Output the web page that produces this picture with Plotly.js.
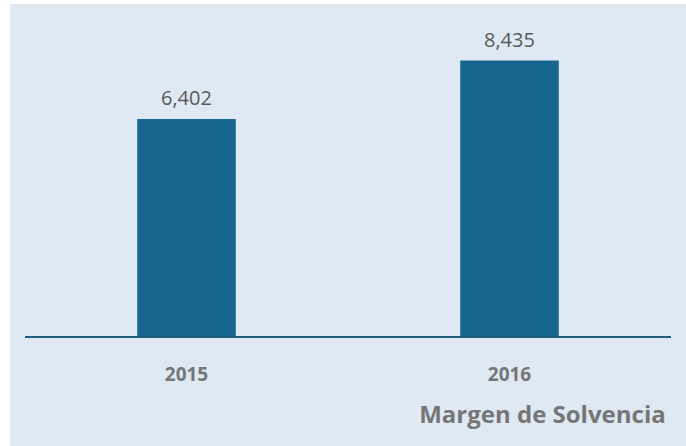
<!DOCTYPE html>
<html>
<head>
<meta charset="utf-8">
<script src="https://cdn.plot.ly/plotly-3.0.1.min.js"></script>
<style>
  html, body { margin: 0; padding: 0; background: #ffffff; }
  #chart { position: absolute; left: 10px; top: 4px; width: 676px; height: 442px; }
</style>
</head>
<body>
<div id="chart"></div>
<script>
const categories = ["2015", "2016"];
const values = [6402, 8435];
const valueLabels = ["6,402", "8,435"];
const chartTitle = "Margen de Solvencia";

const AXIS_MIN = -1139;
const AXIS_MAX = 9356;

const trace = {
  type: "bar",
  x: categories,
  y: values.map(v => v - AXIS_MIN),
  base: AXIS_MIN,
  marker: { color: "#17668f", line: { width: 0 } },
  hoverinfo: "skip"
};

const annotations = categories.map((c, i) => ({
  x: i,
  y: values[i],
  xref: "x",
  yref: "y",
  text: valueLabels[i],
  showarrow: false,
  xanchor: "center",
  yanchor: "bottom",
  yshift: 6,
  font: { family: "Open Sans, sans-serif", size: 20, color: "#595959" }
}));

const layout = {
  width: 676,
  height: 442,
  margin: { l: 15, r: 15, t: 30, b: 110 },
  paper_bgcolor: "#dfe9f3",
  plot_bgcolor: "#dfe9f3",
  bargap: 0.695,
  showlegend: false,
  annotations: annotations,
  xaxis: {
    type: "category",
    range: [-0.5, categories.length - 0.5],
    showline: true,
    linecolor: "#1f5e7d",
    linewidth: 2,
    ticks: "outside",
    ticklen: 20,
    tickcolor: "rgba(0,0,0,0)",
    showgrid: false,
    tickfont: { family: "Open Sans, sans-serif", size: 19, color: "#767676", weight: "bold" }
  },
  yaxis: {
    range: [AXIS_MIN, AXIS_MAX],
    visible: false,
    showgrid: false,
    zeroline: false
  },
  title: {
    text: chartTitle,
    font: { family: "Open Sans, sans-serif", size: 24, color: "#767676", weight: "bold" },
    xref: "container",
    yref: "container",
    x: 0.970,
    xanchor: "right",
    y: 0.072,
    yanchor: "middle"
  }
};

Plotly.newPlot("chart", [trace], layout, { staticPlot: true, displayModeBar: false });
</script>
</body>
</html>
